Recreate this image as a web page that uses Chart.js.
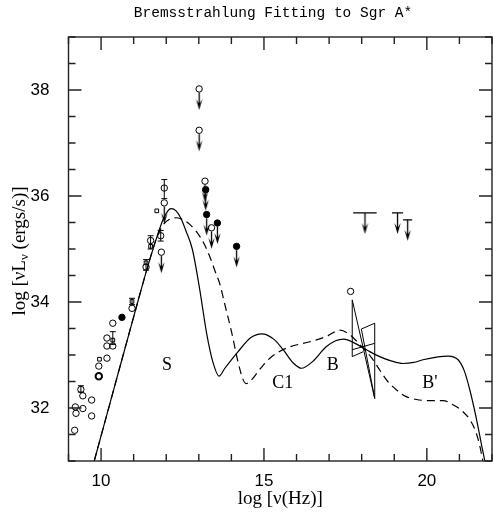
<!DOCTYPE html>
<html>
<head>
<meta charset="utf-8">
<script src="https://cdn.jsdelivr.net/npm/chart.js@4.4.0/dist/chart.umd.min.js"></script>
<style>
  html, body { margin: 0; padding: 0; background: #fff; }
</style>
</head>
<body>
<canvas id="grafico" width="493" height="512"></canvas>
<script>
// --- DATOS ---
// curva continua (modelo)
const solidX = [9.79, 10.5, 11.0, 11.4, 11.7, 11.9, 12.05, 12.15, 12.3, 12.45, 12.6, 12.8, 13.03, 13.24, 13.44, 13.62, 13.8, 14.2, 14.6, 14.93, 15.3, 15.59, 15.9, 16.15, 16.5, 16.9, 17.2, 17.45, 17.8, 18.2, 18.55, 18.9, 19.27, 19.6, 19.88, 20.3, 20.65, 20.96, 21.15, 21.32, 21.45, 21.57, 21.68, 21.78];
const solidY = [31.0, 32.6, 33.72, 34.6, 35.2, 35.55, 35.72, 35.76, 35.72, 35.58, 35.35, 35.0, 34.23, 33.41, 32.85, 32.6, 32.75, 33.06, 33.33, 33.4, 33.3, 33.1, 32.85, 32.75, 32.88, 33.15, 33.27, 33.3, 33.22, 33.08, 32.97, 32.89, 32.84, 32.86, 32.91, 32.96, 32.98, 32.91, 32.7, 32.34, 32.0, 31.65, 31.3, 31.0];
// curva discontinua
const dashX = [9.79, 10.5, 11.0, 11.4, 11.7, 11.9, 12.1, 12.32, 12.55, 12.73, 12.9, 13.05, 13.2, 13.34, 13.5, 13.65, 13.8, 14.0, 14.2, 14.35, 14.45, 14.57, 14.9, 15.18, 15.69, 16.41, 16.92, 17.33, 17.6, 18.04, 18.3, 18.55, 18.8, 19.07, 19.35, 19.68, 20.1, 20.5, 20.8, 21.11, 21.35, 21.52, 21.62, 21.72];
const dashY = [31.0, 32.6, 33.72, 34.6, 35.2, 35.45, 35.56, 35.59, 35.54, 35.46, 35.35, 35.22, 35.05, 34.85, 34.58, 34.33, 33.95, 33.45, 32.88, 32.55, 32.46, 32.5, 32.75, 32.94, 33.13, 33.25, 33.35, 33.47, 33.4, 33.13, 32.95, 32.72, 32.5, 32.34, 32.22, 32.16, 32.14, 32.14, 32.06, 31.93, 31.75, 31.52, 31.3, 31.0];

// observaciones
const openX = [9.19, 9.21, 9.23, 9.38, 9.44, 9.44, 9.71, 9.71, 9.93, 10.18, 10.18, 10.18, 10.36, 10.36, 10.95, 11.38, 11.52, 11.83, 11.94, 17.66];
const openY = [31.58, 32.02, 31.90, 32.35, 32.23, 31.99, 32.15, 31.85, 32.79, 32.94, 33.17, 33.32, 33.60, 33.17, 33.88, 34.66, 35.16, 35.25, 36.15, 34.20];
const thickX = [9.93];
const thickY = [32.60];
const filledX = [10.64];
const filledY = [33.71];
const boxX = [9.95, 10.36, 10.95, 11.38, 11.52, 11.71];
const boxY = [32.92, 33.28, 34.01, 34.74, 35.05, 35.72];

// limites superiores (con flecha)
const limOpenX = [13.01, 13.01, 13.19, 13.39, 11.85, 11.94];
const limOpenY = [38.02, 37.24, 36.28, 35.40, 34.94, 35.87];
const limFillX = [13.21, 13.24, 13.57, 14.16];
const limFillY = [36.12, 35.65, 35.49, 35.05];
const limBarX = [18.1, 19.1, 19.41];
const limBarY = [35.68, 35.68, 35.55];
const limBarHalf = [0.36, 0.17, 0.14];

// barras de error
const errX = [11.94, 11.83, 10.36, 11.38, 11.52, 10.95, 9.38];
const errLo = [35.95, 35.15, 33.20, 34.60, 35.00, 33.95, 32.30];
const errHi = [36.31, 35.35, 33.44, 34.80, 35.25, 34.07, 32.42];

// espectro en rayos X (bowtie), null = corte de linea
const bowX = [17.71, 17.71, 18.40, 18.40, 17.99, 18.40, null, 17.71, 18.40, null, 17.71, 18.04];
const bowY = [32.97, 34.04, 32.18, 33.60, 33.49, 32.18, null, 33.10, 33.22, null, 32.97, 33.06];

// etiquetas de las componentes
const compText = ['S', 'C1', 'B', "B'"];
const compX = [12.02, 15.58, 17.11, 20.09];
const compY = [32.81, 32.47, 32.81, 32.47];

const xTicks = [10, 15, 20];
const yTicks = [32, 34, 36, 38];

// --- helpers ---
const pts = (xs, ys) => xs.map((x, i) => ({ x: x, y: ys[i] }));

function makeArrow(offset) {
  const c = document.createElement('canvas');
  c.width = 11; c.height = 56;
  const g = c.getContext('2d');
  const cx = 5.5, cy = 28, tip = cy + 21;
  g.strokeStyle = '#000'; g.fillStyle = '#000'; g.lineWidth = 1.3;
  g.beginPath(); g.moveTo(cx, cy + offset); g.lineTo(cx, tip - 4); g.stroke();
  g.beginPath();
  g.moveTo(cx - 3.2, tip - 11); g.lineTo(cx, tip); g.lineTo(cx + 3.2, tip - 11);
  g.lineTo(cx, tip - 6); g.closePath(); g.fill();
  return c;
}
const arrowCircle = makeArrow(3.5);
const arrowBar = makeArrow(0);

const plainScatter = (data, extra) => Object.assign({
  type: 'scatter', data: data, showLine: false,
  pointStyle: 'circle', pointRadius: 3.2, borderWidth: 1,
  borderColor: '#000', backgroundColor: 'rgba(0,0,0,0)'
}, extra);

// --- plugin: marco, ticks hacia dentro, textos ---
const marco = {
  id: 'marco',
  beforeDatasetsDraw(chart) {
    const { ctx, scales: { x, y } } = chart;
    ctx.save();
    ctx.strokeStyle = '#000';
    ctx.lineWidth = 1;
    for (let i = 0; i < errX.length; i++) {
      const px = x.getPixelForValue(errX[i]);
      const p1 = y.getPixelForValue(errLo[i]);
      const p2 = y.getPixelForValue(errHi[i]);
      ctx.beginPath();
      ctx.moveTo(px, p1); ctx.lineTo(px, p2);
      ctx.moveTo(px - 3, p1); ctx.lineTo(px + 3, p1);
      ctx.moveTo(px - 3, p2); ctx.lineTo(px + 3, p2);
      ctx.stroke();
    }
    ctx.restore();
  },
  afterDraw(chart) {
    const { ctx, chartArea: a, scales: { x, y } } = chart;
    ctx.save();
    ctx.strokeStyle = '#222';
    ctx.lineWidth = 1.4;
    ctx.strokeRect(a.left, a.top, a.right - a.left, a.bottom - a.top);
    ctx.beginPath();
    for (let v = Math.ceil(x.min); v <= x.max; v++) {
      const px = x.getPixelForValue(v);
      const len = v % 5 === 0 ? 13 : 7;
      ctx.moveTo(px, a.bottom); ctx.lineTo(px, a.bottom - len);
      ctx.moveTo(px, a.top); ctx.lineTo(px, a.top + len);
    }
    for (let v = y.min; v <= y.max + 1e-9; v += 0.5) {
      const py = y.getPixelForValue(v);
      const len = v % 2 === 0 ? 13 : 7;
      ctx.moveTo(a.left, py); ctx.lineTo(a.left + len, py);
      ctx.moveTo(a.right, py); ctx.lineTo(a.right - len, py);
    }
    ctx.stroke();

    // etiquetas S, C1, B, B'
    ctx.fillStyle = '#000';
    ctx.font = '18px "Liberation Serif"';
    ctx.textAlign = 'center';
    ctx.textBaseline = 'middle';
    compText.forEach((t, i) => {
      ctx.fillText(t, x.getPixelForValue(compX[i]), y.getPixelForValue(compY[i]));
    });

    // titulo
    ctx.font = '14.5px "Liberation Mono"';
    ctx.fillText('Bremsstrahlung Fitting to Sgr A*', 273, 13);

    // titulo eje y con subindice
    ctx.translate(20, 251);
    ctx.rotate(-Math.PI / 2);
    const big = '19px "Liberation Serif"', small = '13px "Liberation Serif"';
    const p1 = 'log [\u03BDL', p3 = ' (ergs/s)]';
    ctx.textAlign = 'left';
    ctx.font = big;
    const w1 = ctx.measureText(p1).width;
    const w3 = ctx.measureText(p3).width;
    ctx.font = small;
    const w2 = ctx.measureText('\u03BD').width;
    const start = -(w1 + w2 + w3) / 2;
    ctx.font = big;
    ctx.fillText(p1, start, 0);
    ctx.font = small;
    ctx.fillText('\u03BD', start + w1, 5);
    ctx.font = big;
    ctx.fillText(p3, start + w1 + w2, 0);
    ctx.restore();
  }
};

const ctx = document.getElementById('grafico').getContext('2d');
new Chart(ctx, {
  type: 'scatter',
  data: {
    datasets: [
      {
        type: 'line', data: pts(solidX, solidY), borderColor: '#000', borderWidth: 1.2,
        pointRadius: 0, fill: false, cubicInterpolationMode: 'monotone'
      },
      {
        type: 'line', data: pts(dashX, dashY), borderColor: '#000', borderWidth: 1.2,
        borderDash: [8, 5], pointRadius: 0, fill: false, cubicInterpolationMode: 'monotone'
      },
      {
        type: 'line', data: pts(bowX, bowY), borderColor: '#000', borderWidth: 1,
        pointRadius: 0, fill: false, tension: 0, spanGaps: false
      },
      plainScatter(pts(openX, openY)),
      plainScatter(pts(thickX, thickY), { borderWidth: 2 }),
      plainScatter(pts(filledX, filledY), { backgroundColor: '#000' }),
      plainScatter(pts(boxX, boxY), { pointStyle: 'rect', pointRadius: 2.6 }),
      plainScatter(pts(limOpenX, limOpenY)),
      plainScatter(pts(limOpenX, limOpenY), { pointStyle: arrowCircle, pointRadius: 1 }),
      plainScatter(pts(limFillX, limFillY), { backgroundColor: '#000' }),
      plainScatter(pts(limFillX, limFillY), { pointStyle: arrowCircle, pointRadius: 1 }),
      plainScatter(pts(limBarX, limBarY), { pointStyle: arrowBar, pointRadius: 1 }),
      plainScatter(pts(limBarX, limBarY), {
        pointStyle: 'line', borderWidth: 1.3,
        pointRadius: limBarHalf.map(h => h * 32.6)
      })
    ]
  },
  options: {
    responsive: false,
    animation: false,
    events: [],
    layout: { autoPadding: false, padding: { top: 37, right: 1, left: 0, bottom: 0 } },
    plugins: { legend: { display: false }, tooltip: { enabled: false } },
    scales: {
      x: {
        type: 'linear', min: 9, max: 22,
        afterBuildTicks: s => { s.ticks = xTicks.map(v => ({ value: v })); },
        afterFit: s => { s.height = 51; },
        grid: { display: false },
        border: { display: false },
        ticks: { color: '#000', padding: 2, font: { family: 'Liberation Sans', size: 17 } },
        title: {
          display: true, text: 'log [\u03BD(Hz)]', color: '#000',
          font: { family: 'Liberation Serif', size: 19 }, padding: { top: 0, bottom: 2 }
        }
      },
      y: {
        type: 'linear', min: 31, max: 39,
        afterBuildTicks: s => { s.ticks = yTicks.map(v => ({ value: v })); },
        afterFit: s => { s.width = 68.5; },
        grid: { display: false },
        border: { display: false },
        ticks: { color: '#000', padding: 11, font: { family: 'Liberation Sans', size: 17 } }
      }
    }
  },
  plugins: [marco]
});
</script>
</body>
</html>
